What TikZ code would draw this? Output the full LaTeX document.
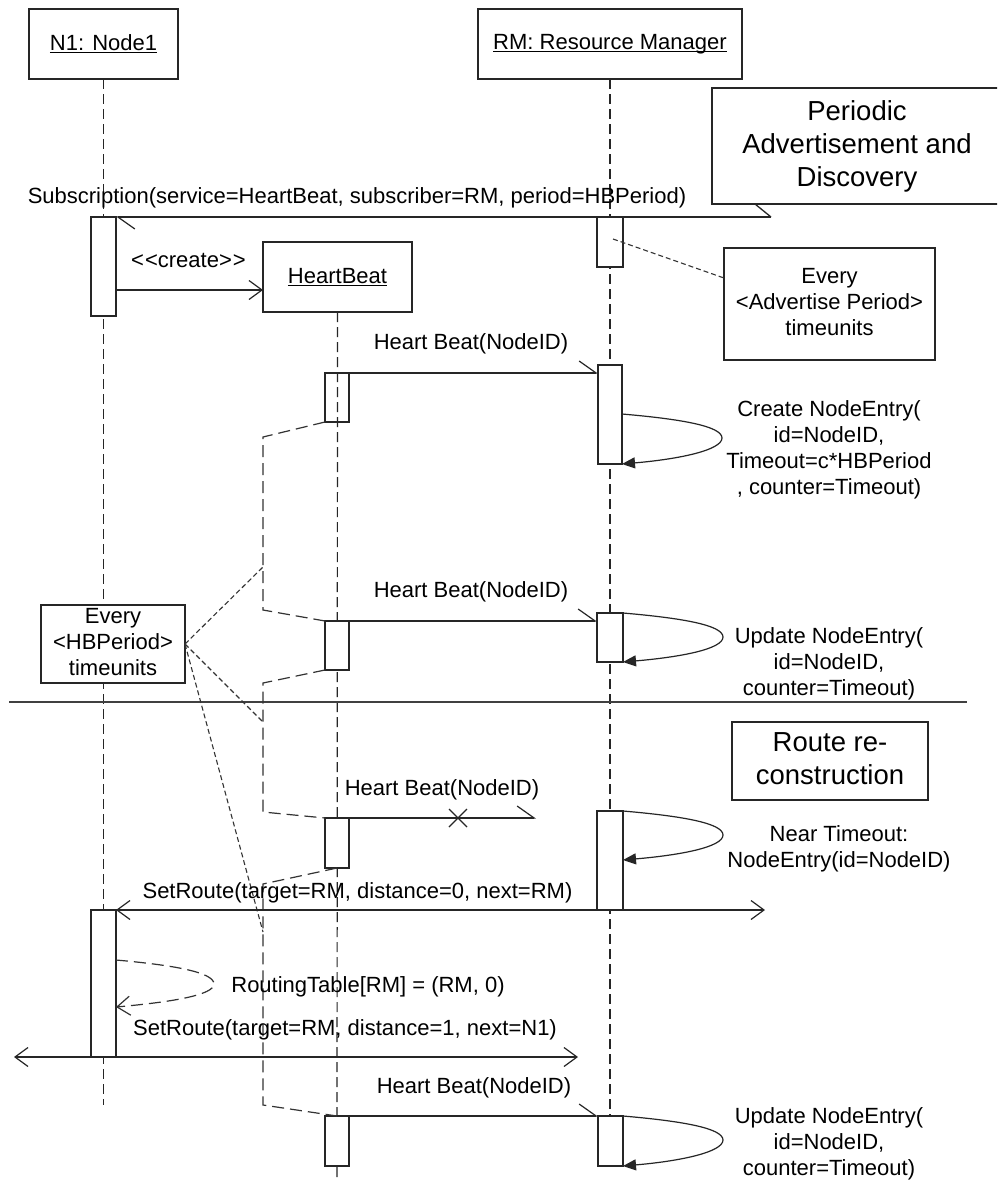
\documentclass[tikz,border=0pt]{standalone}
\usepackage{fontspec}
\setmainfont{Liberation Sans}
\usetikzlibrary{arrows.meta,shapes.misc}
% underline at a fixed distance below the baseline
\newcommand\undertext[1]{\setbox0\hbox{#1}\rlap{\rule[-3pt]{\wd0}{1.3pt}}\box0}
% angle brackets kept apart so they are not merged into guillemets
\newcommand\stereo[1]{\textless\kern1pt\textless #1\textgreater\kern1pt\textgreater}
\begin{document}
\begin{tikzpicture}[x=1pt,y=-1pt,
  every node/.style={font=\fontsize{22}{26}\selectfont, inner sep=0pt, outer sep=0pt},
  hbarb/.tip={Straight Barb[left, length=17pt, width=24pt]},
  obarb/.tip={Straight Barb[length=13pt, width=19pt]},
  ftri/.tip={Triangle[length=13pt, width=11pt]},
  ln/.style={draw=black!85, line width=1.3pt},
  objbox/.style={ln, fill=white, minimum height=70pt},
  act/.style={ln, fill=white, minimum width=25pt},
  notebox/.style={ln, fill=white},
  lifeline/.style={draw=black!85, line width=1.2pt, dash pattern=on 10pt off 5pt},
  msg/.style={draw=black!85, line width=1.2pt},
  periodline/.style={draw=black!80, line width=1.2pt, dash pattern=on 12pt off 6pt},
  noteline/.style={draw=black!80, line width=1.1pt, dash pattern=on 5pt off 3pt},
  lbl/.style={anchor=base},
  ml/.style={align=center},
  big/.style={font=\fontsize{27.5}{33}\selectfont}]

\useasboundingbox (0,0) rectangle (997,1181);
\fill[white] (0,0) rectangle (997,1181);
\clip (0,0) rectangle (997,1181);

% ---------- objects ----------
\node[objbox, minimum width=149pt] (n1) at (103.5,44) {\undertext{N1: Node1}};
\node[objbox, minimum width=264pt] (rm) at (610,44) {\undertext{RM: Resource Manager}};
\node[objbox, minimum width=149pt] (hb) at (337.5,277) {\undertext{HeartBeat}};

% ---------- lifelines ----------
\coordinate (n1end) at (103.5,1105);
\coordinate (hbend) at (337,1185);
\draw[lifeline] (n1.south) -- (n1end);
\draw[lifeline] (hb.south) -- (hbend);
\draw[lifeline] (rm.south) -- (610,1116);

% ---------- activations ----------
\node[act, minimum height=99pt] (n1a) at (103.5,266.5) {};
\node[act, minimum height=147pt] (n1b) at (103.5,983.5) {};
\node[act, minimum width=26pt, minimum height=50pt] (rm1) at (610,242) {};
\node[act, minimum width=24pt, minimum height=99pt] (rm2) at (610,414.5) {};
\node[act, minimum width=26pt, minimum height=49pt] (rm3) at (610,637.5) {};
\node[act, minimum width=26pt, minimum height=99pt] (rm4) at (610,860.5) {};
\node[act, minimum height=50pt] (rm5) at (610.5,1141) {};
\node[act, fill=none, minimum width=24pt, minimum height=49pt] (hb1) at (337,397.5) {};
\node[act, minimum width=24pt, minimum height=49pt] (hb2) at (337,645.5) {};
\node[act, minimum width=24pt, minimum height=50pt] (hb3) at (337,843) {};
\node[act, minimum width=24pt, minimum height=50pt] (hb4) at (337,1141) {};

% ---------- notes ----------
\node[big, ml] (ttl) at (857,147) {\strut Periodic\\\strut Advertisement and\\\strut Discovery};
\draw[ln] (1000,88) -| (712,204) -- (1000,204);
\coordinate (subsrc) at (771,217);
\draw[ln] (755,204) -- (subsrc);

\node[notebox, ml, minimum width=211pt, minimum height=112pt] (adv) at (829.5,304)
  {\strut Every\\\strut \textless Advertise Period\textgreater\\\strut timeunits};
\node[notebox, ml, minimum width=144pt, minimum height=78pt] (hbp) at (113,644)
  {\strut Every\\\strut \textless HBPeriod\textgreater\\\strut timeunits};
\node[notebox, big, ml, minimum width=196pt, minimum height=78pt] (route) at (830,761)
  {\strut Route re-\\\strut construction};

% separator between the two phases
\coordinate (sepL) at (9,702);
\coordinate (sepR) at (967,702);
\draw[ln, draw=black!75] (sepL) -- (sepR);

% ---------- period markers ----------
\draw[periodline] (hb1.south west) -- (263,437) -- (263,610) -- (hb2.north west);
\draw[periodline] (hb2.south west) -- (263,683) -- (263,812) -- (hb3.north west);
\draw[periodline] (hb3.south) -- (263,884) -- (263,1105) -- (hb4.north);

\coordinate (pA) at (263,567);
\coordinate (pB) at (263,722);
\coordinate (pC) at (263,932);
\draw[noteline] (hbp.east) -- (pA);
\draw[noteline] (hbp.east) -- (pB);
\draw[noteline] (hbp.east) -- (pC);
\draw[noteline] ([xshift=3pt,yshift=3pt]rm1.center) -- ([yshift=26pt]adv.west);

% ---------- messages ----------
\node[lbl] (subl) at (357,203) {Subscription(service=HeartBeat, subscriber=RM, period=HBPeriod)};
\draw[msg, -{hbarb}] (subsrc) -- (n1a.north east);

\node[lbl] (crl) at (188.5,267) {\stereo{create}};
\coordinate (crend) at ([yshift=-13pt]hb.west);
\draw[msg, -{obarb}] (n1a.east |- crend) -- (crend);

\node[lbl] (hbl1) at (471,349) {Heart Beat(NodeID)};
\draw[msg, -{hbarb}] (hb1.north east) -- (rm2.west |- hb1.north east);

\node[ml] (cne) at (829,449.8)
  {\strut Create NodeEntry(\\\strut id=NodeID,\\\strut Timeout=c*HBPeriod\\\strut , counter=Timeout)};
\draw[msg, -{ftri}] ([yshift=-49pt]rm2.north east) .. controls +(58,5) and +(0,-12) .. ++(100,24)
  .. controls +(0,12) and +(58,-5) .. (rm2.south east);

\node[lbl] (hbl2) at (471,597) {Heart Beat(NodeID)};
\draw[msg, -{hbarb}] (hb2.north east) -- (rm3.west |- hb2.north east);

\node[ml] (une1) at (829,664.3)
  {\strut Update NodeEntry(\\\strut id=NodeID,\\\strut counter=Timeout)};
\draw[msg, -{ftri}] (rm3.north east) .. controls +(58,5) and +(0,-12) .. ++(100,24)
  .. controls +(0,12) and +(58,-5) .. (rm3.south east);

\node[lbl] (hbl3) at (442,795) {Heart Beat(NodeID)};
\coordinate (lost) at (536,818);
\draw[msg, -{hbarb}] (hb3.north east) -- (lost);
\node[draw=black!85, line width=1.2pt, cross out, minimum size=18pt] (lx) at (458,818) {};

\node[ml] (nto) at (839,849.3) {\strut Near Timeout:\\\strut NodeEntry(id=NodeID)};
\draw[msg, -{ftri}] (rm4.north east) .. controls +(58,5) and +(0,-12) .. ++(100,24)
  .. controls +(0,12) and +(58,-5) .. ([yshift=-49pt]rm4.north east);

\node[lbl] (srl1) at (357.5,898) {SetRoute(target=RM, distance=0, next=RM)};
\coordinate (sr1e) at (765,910);
\draw[msg, -{obarb}] (rm4.south west) -- (n1b.north east);
\draw[msg, -{obarb}] (rm4.south east) -- (sr1e);

\node[lbl] (rtl) at (368,992) {RoutingTable[RM] = (RM, 0)};
\draw[periodline, -{obarb}] ([yshift=-50pt]n1b.north east) .. controls +(56,5) and +(0,-12) .. ++(98,24)
  .. controls +(0,11) and +(56,-5) .. ([yshift=-97pt]n1b.north east);

\node[lbl] (srl2) at (345,1035) {SetRoute(target=RM, distance=1, next=N1)};
\coordinate (sr2w) at (14,1057);
\coordinate (sr2e) at (578,1057);
\draw[msg, -{obarb}] (n1b.south west) -- (sr2w);
\draw[msg, -{obarb}] (n1b.south east) -- (sr2e);

\node[lbl] (hbl4) at (474,1093) {Heart Beat(NodeID)};
\draw[msg, -{hbarb}] (hb4.north east) -- (rm5.north west);

\node[ml] (une2) at (829,1143.8)
  {\strut Update NodeEntry(\\\strut id=NodeID,\\\strut counter=Timeout)};
\draw[msg, -{ftri}] (rm5.north east) .. controls +(58,5) and +(0,-12) .. ++(100,24)
  .. controls +(0,12) and +(58,-5) .. (rm5.south east);

\end{tikzpicture}
\end{document}
